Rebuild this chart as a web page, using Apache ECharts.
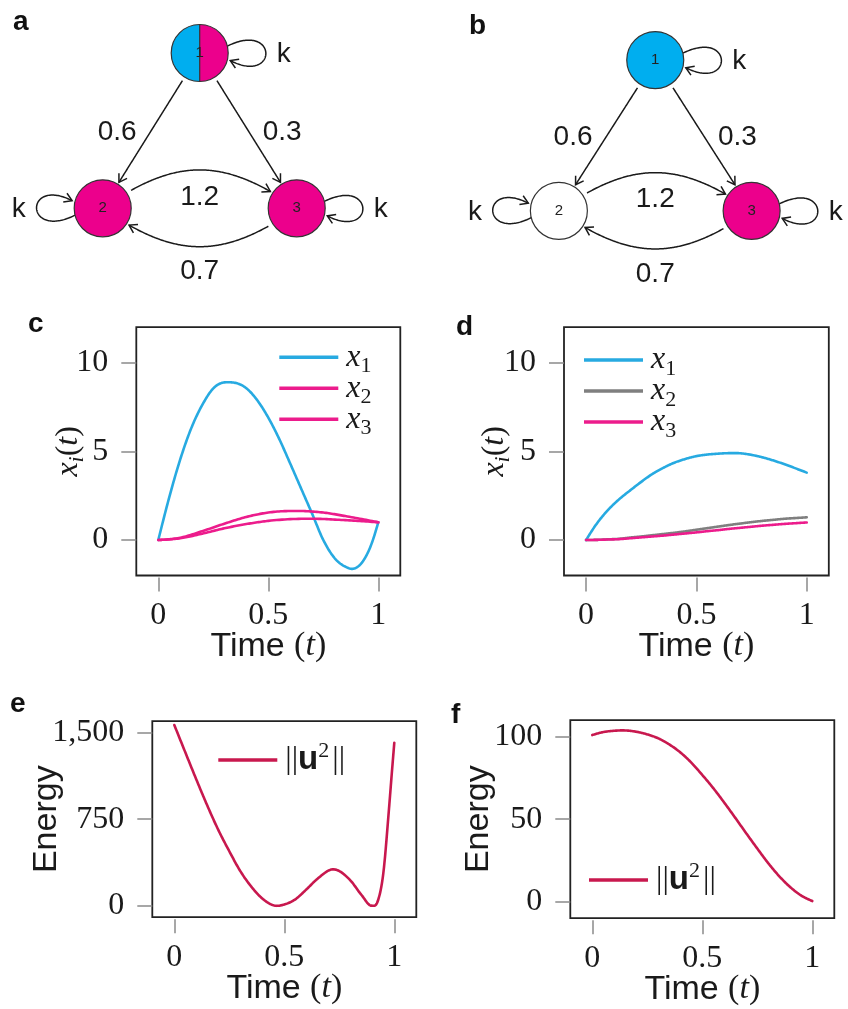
<!DOCTYPE html>
<html><head><meta charset="utf-8">
<script src="https://cdn.jsdelivr.net/npm/echarts@6/dist/echarts.min.js"></script>
<style>html,body{margin:0;padding:0;background:#fff}#chart{width:848px;height:1009px}</style>
</head><body><div id="chart"></div>
<script>
// ================= DATA =================
// Network (panels a, b)
const nodeLabels = ['1', '2', '3'];
const nodePositions = [[1, 1.58], [0, 0], [2, 0]];       // layout coordinates
const edgeList = [[0, 1], [0, 2], [1, 2], [2, 1]];        // source -> target
const edgeWeights = ['0.6', '0.3', '1.2', '0.7'];
const selfLoopWeight = 'k';
const nodeColorsA = [['#00AEEF', '#EC008C'], ['#EC008C'], ['#EC008C']];
const nodeColorsB = [['#00AEEF'], ['#FFFFFF'], ['#EC008C']];

// Panel c
const cX1Time = [0,0.05,0.1,0.15,0.2,0.25,0.333,0.4,0.45,0.5,0.55,0.6,0.65,0.7,0.75,0.8,0.85,0.886,0.93,0.97,1.0];
const cX1 = [0,2.42,4.56,6.31,7.62,8.55,8.89,8.56,7.88,6.9,5.69,4.3,2.88,1.46,0.0,-1.0,-1.5,-1.62,-1.2,-0.19,1.0];
const cX2Time = [0,0.1,0.2,0.3,0.4,0.5,0.63,0.75,0.85,1.0];
const cX2 = [0,0.13,0.5,0.92,1.3,1.55,1.64,1.55,1.35,1.0];
const cX3Time = [0,0.1,0.2,0.3,0.4,0.5,0.7,0.85,1.0];
const cX3 = [0,0.1,0.36,0.66,0.9,1.08,1.2,1.12,1.0];

// Panel d
const dTime = [0,0.05,0.1,0.15,0.2,0.25,0.3,0.35,0.4,0.45,0.5,0.55,0.6,0.65,0.7,0.75,0.8,0.85,0.9,0.95,1.0];
const dX1 = [0,0.95,1.7,2.3,2.8,3.28,3.72,4.07,4.36,4.57,4.73,4.82,4.87,4.9,4.89,4.8,4.66,4.48,4.27,4.04,3.8];
const dX2 = [0,0.01,0.04,0.07,0.14,0.2,0.27,0.34,0.41,0.49,0.58,0.67,0.76,0.85,0.93,1.01,1.08,1.14,1.2,1.24,1.28];
const dX3 = [0,0.01,0.03,0.05,0.1,0.15,0.2,0.25,0.31,0.37,0.43,0.5,0.56,0.63,0.69,0.75,0.81,0.86,0.91,0.95,0.99];

// Panel e
const eTime = [0,0.05,0.1,0.15,0.2,0.25,0.3,0.35,0.4,0.458,0.5,0.55,0.6,0.65,0.723,0.8,0.85,0.897,0.925,0.95,0.975,0.99,1.0];
const eEnergy = [1567,1330,1095,868,657,472,300,165,62,0,10,55,140,232,315,220,95,0,40,280,820,1180,1413];

// Panel f
const fTime = [0,0.05,0.1,0.148,0.2,0.25,0.3,0.35,0.4,0.45,0.5,0.55,0.6,0.65,0.7,0.75,0.8,0.85,0.9,0.95,1.0];
const fEnergy = [101,102.8,103.6,103.8,103,101.4,99,95.3,90.5,84.3,76.8,68.8,60,50.8,41.4,32.2,23.3,15.4,8.8,3.7,0.4];

// Tick labels
const timeTicks = [0, 0.5, 1];
const stateTicks = [0, 5, 10];
const energyTicksE = [0, 750, 1500];
const energyTicksF = [0, 50, 100];

// ================= STYLE =================
const SERIF = '"Liberation Serif","DejaVu Serif",serif';
const SANS = '"Liberation Sans",Arial,"DejaVu Sans",sans-serif';
const BLUE = '#27AAE1', PINK = '#EC1C8C', GRAY = '#7F7F7F', CRIMSON = '#C8184E';
const R = 28.5;
const EDGE_STYLE = [
  {bend: 0, dx: -34, dy: 2},
  {bend: 0, dx: 34, dy: 2},
  {bend: 35, dx: 0, dy: 27},
  {bend: 35, dx: 0, dy: 25}
];
const LOOP_DIR = [1, -1, 1];

const legendNames = {
  c1: '{x|x}{s|1}', c2: '{x|x}{s|2}', c3: '{x|x}{s|3}',
  d1: '{x|x}{s|1}', d2: '{x|x}{s|2}', d3: '{x|x}{s|3}',
  eU: '{b|||}{u|u}{sup|2}{b|||}', fU: '{b|||}{u|u}{sup|2}{b|||}'
};
const legendRich = {
  x: {fontFamily: SERIF, fontStyle: 'italic', fontSize: 32, color: '#1a1a1a', padding: [0, 0, 0, 3]},
  s: {fontFamily: SERIF, fontSize: 22, color: '#1a1a1a', padding: [18, 0, 0, 0]},
  b: {fontFamily: SERIF, fontSize: 32, color: '#1a1a1a', padding: [0, 0, 0, 3]},
  u: {fontFamily: SANS, fontWeight: 'bold', fontSize: 33, color: '#1a1a1a'},
  sup: {fontFamily: SERIF, fontSize: 22, color: '#1a1a1a', padding: [0, 0, 18, 0]}
};

// ================= HELPERS =================
function bez(p0, p1, p2, p3, t) {
  const u = 1 - t;
  const a = u * u * u, b = 3 * u * u * t, c = 3 * u * t * t, d = t * t * t;
  return [a * p0[0] + b * p1[0] + c * p2[0] + d * p3[0], a * p0[1] + b * p1[1] + c * p2[1] + d * p3[1]];
}
function dist(a, b) { return Math.hypot(a[0] - b[0], a[1] - b[1]); }
function arrowHead(tip, from) {
  const dx = tip[0] - from[0], dy = tip[1] - from[1];
  const l = Math.hypot(dx, dy) || 1;
  const ux = dx / l, uy = dy / l;
  const L = 9, ang = 32 * Math.PI / 180;
  const pts = [];
  for (const s of [1, -1]) {
    const c = Math.cos(ang), sn = Math.sin(ang) * s;
    const bx = -ux * c + uy * sn, by = -uy * c - ux * sn;
    pts.push([tip[0] + bx * L, tip[1] + by * L]);
  }
  return {type: 'polyline', shape: {points: [pts[0], tip, pts[1]]},
    style: {stroke: '#1a1a1a', lineWidth: 1.5, fill: null, lineJoin: 'miter'}};
}
// Smooth cubic Hermite through pixel points (x increasing)
function hermite(pts) {
  const n = pts.length, h = [], s = [], m = [];
  for (let i = 0; i < n - 1; i++) { h[i] = pts[i + 1][0] - pts[i][0]; s[i] = (pts[i + 1][1] - pts[i][1]) / h[i]; }
  for (let i = 1; i < n - 1; i++) m[i] = (s[i - 1] * h[i] + s[i] * h[i - 1]) / (h[i - 1] + h[i]);
  m[0] = n > 2 ? (3 * s[0] - m[1]) / 2 : s[0];
  m[n - 1] = n > 2 ? (3 * s[n - 2] - m[n - 2]) / 2 : s[n - 2];
  const out = [pts[0]];
  for (let i = 0; i < n - 1; i++) {
    for (let k = 1; k <= 16; k++) {
      const t = k / 16, t2 = t * t, t3 = t2 * t;
      const h00 = 2 * t3 - 3 * t2 + 1, h10 = t3 - 2 * t2 + t, h01 = -2 * t3 + 3 * t2, h11 = t3 - t2;
      out.push([pts[i][0] + t * h[i],
        h00 * pts[i][1] + h10 * h[i] * m[i] + h01 * pts[i + 1][1] + h11 * h[i] * m[i + 1]]);
    }
  }
  return out;
}

function edgeSeries(gi) {
  return {
    type: 'custom', xAxisIndex: gi, yAxisIndex: gi, silent: true, z: 2,
    data: edgeList.map(([s, t], k) => [nodePositions[s][0], nodePositions[s][1], nodePositions[t][0], nodePositions[t][1], k]),
    encode: {x: [0, 2], y: [1, 3]},
    renderItem(params, api) {
      const p0 = api.coord([api.value(0), api.value(1)]);
      const p3 = api.coord([api.value(2), api.value(3)]);
      const k = api.value(4);
      const st = EDGE_STYLE[k];
      const D = dist(p0, p3);
      const d = [(p3[0] - p0[0]) / D, (p3[1] - p0[1]) / D];
      const n = [d[1], -d[0]];
      const th = st.bend * Math.PI / 180, L = 0.46 * D;
      const p1 = [p0[0] + L * (Math.cos(th) * d[0] + Math.sin(th) * n[0]), p0[1] + L * (Math.cos(th) * d[1] + Math.sin(th) * n[1])];
      const p2 = [p3[0] + L * (-Math.cos(th) * d[0] + Math.sin(th) * n[0]), p3[1] + L * (-Math.cos(th) * d[1] + Math.sin(th) * n[1])];
      const N = 200, samp = [];
      for (let i = 0; i <= N; i++) samp.push(bez(p0, p1, p2, p3, i / N));
      let i0 = 0; while (i0 < N && dist(samp[i0], p0) < R + 4) i0++;
      let i1 = N; while (i1 > 0 && dist(samp[i1], p3) < R + 2) i1--;
      const pts = samp.slice(i0, i1 + 1);
      const mid = bez(p0, p1, p2, p3, 0.5);
      return {type: 'group', children: [
        {type: 'polyline', shape: {points: pts}, style: {stroke: '#1a1a1a', lineWidth: 1.5, fill: null}},
        arrowHead(pts[pts.length - 1], pts[Math.max(0, pts.length - 8)]),
        {type: 'text', style: {text: edgeWeights[k], x: mid[0] + st.dx, y: mid[1] + st.dy, align: 'center', verticalAlign: 'middle',
          fontFamily: SANS, fontSize: 28, fill: '#1a1a1a'}}
      ]};
    }
  };
}

function loopSeries(gi) {
  return {
    type: 'custom', xAxisIndex: gi, yAxisIndex: gi, silent: true, z: 2,
    data: nodePositions.map((p, i) => [p[0], p[1], i]),
    encode: {x: 0, y: 1},
    renderItem(params, api) {
      const c = api.coord([api.value(0), api.value(1)]);
      const i = api.value(2);
      const dir = LOOP_DIR[i];
      const e1 = [dir, 0], e2 = [0, dir];
      const P = (a, b) => [c[0] + a * e1[0] + b * e2[0], c[1] + a * e1[1] + b * e2[1]];
      const a = 14 * Math.PI / 180, Dx = 50, Dy = 32;
      const p0 = P(R * Math.cos(a), -R * Math.sin(a));
      const p1 = P(R + Dx, -Dy);
      const p2 = P(R + Dx, Dy);
      const p3 = P((R + 3) * Math.cos(a), (R + 3) * Math.sin(a));
      const pts = [];
      for (let k = 0; k <= 100; k++) pts.push(bez(p0, p1, p2, p3, k / 100));
      const lab = P(84, 0);
      return {type: 'group', children: [
        {type: 'polyline', shape: {points: pts}, style: {stroke: '#1a1a1a', lineWidth: 1.5, fill: null}},
        arrowHead(pts[100], pts[94]),
        {type: 'text', style: {text: selfLoopWeight, x: lab[0], y: lab[1] + 1, align: 'center', verticalAlign: 'middle',
          fontFamily: SANS, fontSize: 28, fill: '#1a1a1a'}}
      ]};
    }
  };
}

function nodeSeries(gi, colors) {
  return {
    type: 'custom', xAxisIndex: gi, yAxisIndex: gi, silent: true, z: 3,
    data: nodePositions.map((p, i) => [p[0], p[1], i]),
    encode: {x: 0, y: 1},
    renderItem(params, api) {
      const c = api.coord([api.value(0), api.value(1)]);
      const i = api.value(2);
      const cols = colors[i];
      const ch = [];
      if (cols.length === 2) {
        ch.push({type: 'sector', shape: {cx: c[0], cy: c[1], r0: 0, r: R, startAngle: Math.PI / 2, endAngle: Math.PI * 1.5, clockwise: true}, style: {fill: cols[0]}});
        ch.push({type: 'sector', shape: {cx: c[0], cy: c[1], r0: 0, r: R, startAngle: -Math.PI / 2, endAngle: Math.PI / 2, clockwise: true}, style: {fill: cols[1]}});
        ch.push({type: 'line', shape: {x1: c[0], y1: c[1] - R, x2: c[0], y2: c[1] + R}, style: {stroke: '#333', lineWidth: 1.2}});
        ch.push({type: 'circle', shape: {cx: c[0], cy: c[1], r: R}, style: {fill: null, stroke: '#333', lineWidth: 1.2}});
      } else {
        ch.push({type: 'circle', shape: {cx: c[0], cy: c[1], r: R}, style: {fill: cols[0], stroke: '#333', lineWidth: 1.2}});
      }
      ch.push({type: 'text', style: {text: nodeLabels[i], x: c[0], y: c[1], align: 'center', verticalAlign: 'middle',
        fontFamily: SANS, fontSize: 15, fill: '#222'}});
      return {type: 'group', children: ch};
    }
  };
}

function timeAxis(gi) {
  return {
    type: 'value', gridIndex: gi, min: -0.1, max: 1.1, offset: 2,
    axisLine: {show: false, onZero: false}, splitLine: {show: false},
    axisTick: {show: true, length: 14, customValues: timeTicks, lineStyle: {color: '#8a8a8a', width: 1.5}},
    axisLabel: {customValues: timeTicks, margin: 22, fontFamily: SERIF, fontSize: 32, color: '#1a1a1a',
      formatter: v => String(v)},
    name: '{a|Time }{p|(}{t|t}{p|)}', nameLocation: 'middle', nameGap: 52, nameMoveOverlap: false,
    nameTextStyle: {rich: {
      a: {fontFamily: SANS, fontSize: 34, color: '#1a1a1a'},
      p: {fontFamily: SERIF, fontSize: 34, color: '#1a1a1a'},
      t: {fontFamily: SERIF, fontStyle: 'italic', fontSize: 34, color: '#1a1a1a'}
    }}
  };
}
function valueAxis(gi, min, max, ticks, fmt, name, nameGap, rich) {
  return {
    type: 'value', gridIndex: gi, min, max,
    axisLine: {show: false, onZero: false}, splitLine: {show: false},
    axisTick: {show: true, length: 15, customValues: ticks, lineStyle: {color: '#8a8a8a', width: 1.5}},
    axisLabel: {customValues: ticks, margin: 28, fontFamily: SERIF, fontSize: 32, color: '#1a1a1a', formatter: fmt},
    name, nameLocation: 'middle', nameGap, nameRotate: 90, nameMoveOverlap: false,
    nameTextStyle: {rich}
  };
}
const xiRich = {
  x: {fontFamily: SERIF, fontStyle: 'italic', fontSize: 32, color: '#1a1a1a'},
  s: {fontFamily: SERIF, fontStyle: 'italic', fontSize: 22, color: '#1a1a1a', padding: [18, 0, 0, 0]},
  p: {fontFamily: SERIF, fontSize: 32, color: '#1a1a1a'},
  t: {fontFamily: SERIF, fontStyle: 'italic', fontSize: 32, color: '#1a1a1a'}
};
const energyRich = {e: {fontFamily: SANS, fontSize: 34, color: '#1a1a1a'}};

function curve(gi, name, times, vals, color) {
  return {
    type: 'custom', name, xAxisIndex: gi, yAxisIndex: gi, silent: true, z: 3,
    itemStyle: {color},
    data: times.map((t, i) => [t, vals[i]]),
    encode: {x: 0, y: 1},
    renderItem(params, api) {
      if (params.dataIndex !== 0) return;
      const px = times.map((t, i) => api.coord([t, vals[i]]));
      return {type: 'polyline', shape: {points: hermite(px)},
        style: {stroke: color, lineWidth: 2.6, fill: null, lineJoin: 'round', lineCap: 'round'}};
    }
  };
}
function legend(names, left, top, gap) {
  return {data: names, orient: 'vertical', left, top, padding: 0, itemGap: gap, icon: 'rect',
    itemWidth: 59, itemHeight: 3.5, selectedMode: false,
    formatter: n => legendNames[n], textStyle: {rich: legendRich}};
}

const gridBox = {show: true, borderColor: '#222', borderWidth: 1.8, backgroundColor: 'transparent'};

const option = {
  animation: false,
  backgroundColor: '#fff',
  grid: [
    Object.assign({left: 136.3, top: 327.2, width: 264, height: 248.3}, gridBox),
    Object.assign({left: 564, top: 327.2, width: 264.8, height: 248.3}, gridBox),
    Object.assign({left: 152.3, top: 721.2, width: 264, height: 196}, gridBox),
    Object.assign({left: 570.3, top: 720.2, width: 264, height: 198}, gridBox),
    {left: 5.7, top: 11.7, width: 388, height: 294.9, show: false},
    {left: 462.5, top: 20, width: 390, height: 286.2, show: false}
  ],
  xAxis: [
    timeAxis(0), timeAxis(1), timeAxis(2), timeAxis(3),
    {type: 'value', gridIndex: 4, min: -1, max: 3, show: false},
    {type: 'value', gridIndex: 5, min: -1, max: 3, show: false}
  ],
  yAxis: [
    valueAxis(0, -2, 12, stateTicks, v => String(v), '{x|x}{s|i}{p|(}{t|t}{p|)}', 48, xiRich),
    valueAxis(1, -2, 12, stateTicks, v => String(v), '{x|x}{s|i}{p|(}{t|t}{p|)}', 49.5, xiRich),
    valueAxis(2, -100, 1600, energyTicksE, v => v === 1500 ? '1,500' : String(v), '{e|Energy}', 89, energyRich),
    valueAxis(3, -10, 110, energyTicksF, v => String(v), '{e|Energy}', 74.5, energyRich),
    {type: 'value', gridIndex: 4, min: -1, max: 2, show: false},
    {type: 'value', gridIndex: 5, min: -1, max: 2, show: false}
  ],
  legend: [
    legend(['c1', 'c2', 'c3'], 279.3, 341.2, -5),
    legend(['d1', 'd2', 'd3'], 584, 344, -5),
    legend(['eU'], 218.3, 740, 0),
    legend(['fU'], 589, 860, 0)
  ],
  graphic: [
    {type: 'text', left: 13, top: 8, style: {text: 'a', font: 'bold 28px ' + SANS, fill: '#111'}},
    {type: 'text', left: 469, top: 12, style: {text: 'b', font: 'bold 28px ' + SANS, fill: '#111'}},
    {type: 'text', left: 28, top: 310, style: {text: 'c', font: 'bold 28px ' + SANS, fill: '#111'}},
    {type: 'text', left: 456, top: 313, style: {text: 'd', font: 'bold 28px ' + SANS, fill: '#111'}},
    {type: 'text', left: 10, top: 690, style: {text: 'e', font: 'bold 28px ' + SANS, fill: '#111'}},
    {type: 'text', left: 451, top: 701, style: {text: 'f', font: 'bold 28px ' + SANS, fill: '#111'}}
  ],
  series: [
    curve(0, 'c1', cX1Time, cX1, BLUE),
    curve(0, 'c2', cX2Time, cX2, PINK),
    curve(0, 'c3', cX3Time, cX3, PINK),
    curve(1, 'd1', dTime, dX1, BLUE),
    curve(1, 'd2', dTime, dX2, GRAY),
    curve(1, 'd3', dTime, dX3, PINK),
    curve(2, 'eU', eTime, eEnergy, CRIMSON),
    curve(3, 'fU', fTime, fEnergy, CRIMSON),
    edgeSeries(4), loopSeries(4), nodeSeries(4, nodeColorsA),
    edgeSeries(5), loopSeries(5), nodeSeries(5, nodeColorsB)
  ]
};

const chart = echarts.init(document.getElementById('chart'), null, {renderer: 'canvas', width: 848, height: 1009});
chart.setOption(option);
</script>
</body></html>
